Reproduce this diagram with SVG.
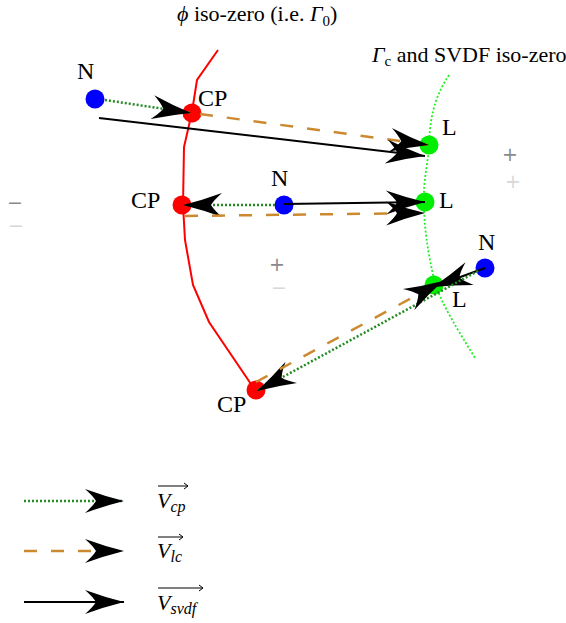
<svg xmlns="http://www.w3.org/2000/svg" width="566" height="623" viewBox="0 0 566 623">
<style>
text{font-family:"Liberation Serif","Times New Roman",serif;fill:#000}
.lbl{font-size:22px}
.nl{font-size:24px}
.it{font-style:italic}
.sign{font-family:"DejaVu Sans",sans-serif;font-size:19px;text-anchor:middle}
.dk{fill:#8a8a8a}
.lt{fill:#d8d8d8}
.cp{stroke:#228b22;stroke-width:2.5;stroke-dasharray:2 2;fill:none}
.lc{stroke:#cc8a30;stroke-width:2.5;stroke-dasharray:13 14;fill:none}
.sv{stroke:#000;stroke-width:2;fill:none}
.arr{marker-end:url(#ah)}
</style>
<defs>
<marker id="ah" markerUnits="userSpaceOnUse" markerWidth="44" markerHeight="28" orient="auto" refX="0" refY="0" overflow="visible">
<path d="M0,0 Q-20,-5 -39,-12 Q-31,-5 -28,0 Q-31,5 -39,12 Q-20,5 0,0 Z" fill="#000" stroke="none"/>
</marker>
</defs>
<rect width="566" height="623" fill="#fff"/>

<g id="curves">
<path d="M218,50 L197,80 L192,112 L184,147 L183,205 L185,240 L193,285 L209,322 L255,390" fill="none" stroke="#ff0000" stroke-width="2"/>
<path d="M449,75 C438,92 430,110 429,145 C428,165 423,180 424,202 C424,225 427,250 435,283 C442,305 458,330 475,358" fill="none" stroke="#22ee22" stroke-width="1.8" stroke-dasharray="2 2"/>
</g>

<g id="curve-labels">
<text class="lbl" x="177" y="21"><tspan class="it">ϕ</tspan> iso-zero (i.e. <tspan class="it">Γ</tspan><tspan font-size="15" dy="5">0</tspan><tspan dy="-5">)</tspan></text>
<text class="lbl" x="372" y="62"><tspan class="it">Γ</tspan><tspan font-size="15" dy="4">c</tspan><tspan dy="-4"> and SVDF iso-zero</tspan></text>
</g>

<g id="signs">
<text class="sign dk" x="510" y="161">+</text>
<text class="sign lt" x="513" y="188">+</text>
<text class="sign dk" x="15" y="209">−</text>
<text class="sign lt" x="16" y="232">−</text>
<text class="sign dk" x="277" y="271">+</text>
<text class="sign lt" x="279" y="294">−</text>
</g>

<g id="N1"><circle cx="95" cy="99" r="9.5" fill="#0000ff"/><text class="nl" x="77" y="79">N</text></g>
<g id="CP1"><circle cx="192" cy="113" r="9.5" fill="#ff0000"/><text class="nl" x="198" y="106">CP</text></g>
<g id="L1"><circle cx="429" cy="145" r="9.5" fill="#00ee00"/><text class="nl" x="442" y="135">L</text></g>
<g id="N2"><circle cx="284" cy="205" r="9.5" fill="#0000ff"/><text class="nl" x="271" y="186">N</text></g>
<g id="CP2"><circle cx="182" cy="205" r="9.5" fill="#ff0000"/><text class="nl" x="131" y="208">CP</text></g>
<g id="L2"><circle cx="425" cy="202" r="9.5" fill="#00ee00"/><text class="nl" x="439" y="208">L</text></g>
<g id="N3"><circle cx="485" cy="268" r="9.5" fill="#0000ff"/><text class="nl" x="478" y="250">N</text></g>
<g id="L3"><circle cx="434" cy="285" r="9.5" fill="#00ee00"/><text class="nl" x="452" y="307">L</text></g>
<g id="CP3"><circle cx="256" cy="390" r="9.5" fill="#ff0000"/><text class="nl" x="217" y="412">CP</text></g>

<g id="connectors">
<path class="cp arr" d="M105,100 L191,113"/>
<path class="lc arr" d="M200,114 L429,145"/>
<path class="sv arr" d="M99,118 L425,156"/>
<path class="cp arr" d="M275,205 L183,205"/>
<path class="sv arr" d="M284,204 L425,202"/>
<path class="lc arr" d="M185,216 L425,213"/>
<path class="sv arr" d="M485,268 L433,287"/>
<path class="cp arr" d="M478,271 L257,391"/>
<path class="lc arr" d="M256,382 L443,281"/>
</g>

<g id="legend">
<path class="cp arr" d="M24,501 L124,501"/>
<path class="lc arr" d="M24,551 L124,551"/>
<path class="sv arr" d="M24,602 L124,602"/>
<text class="lbl it" x="157" y="508">V<tspan font-size="16" dy="4">cp</tspan></text>
<path d="M158,486 H188 M184,483 L188,486 L184,489" fill="none" stroke="#000" stroke-width="1"/>
<text class="lbl it" x="157" y="558">V<tspan font-size="16" dy="4">lc</tspan></text>
<path d="M158,537 H183 M179,534 L183,537 L179,540" fill="none" stroke="#000" stroke-width="1"/>
<text class="lbl it" x="157" y="610">V<tspan font-size="16" dy="4">svdf</tspan></text>
<path d="M158,588 H203 M199,585 L203,588 L199,591" fill="none" stroke="#000" stroke-width="1"/>
</g>
</svg>
